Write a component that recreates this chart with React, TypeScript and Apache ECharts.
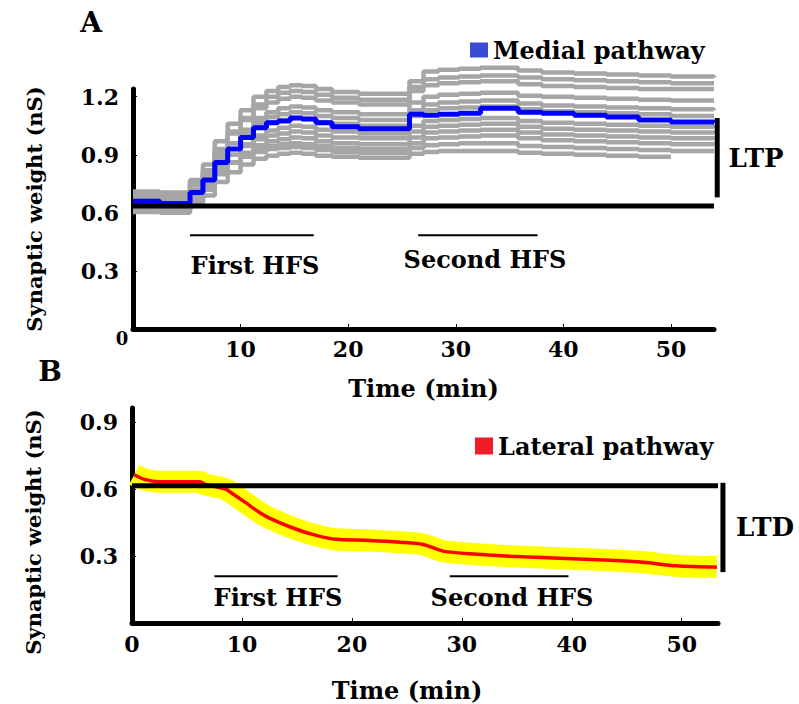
import React, { useEffect, useRef } from 'react';
import * as echarts from 'echarts';

const FONT = 'DejaVu Serif';

// ---------- Panel A : medial pathway (LTP) ----------
const TIME_A = [0, 2.5, 5.3, 6.5, 7.6, 8.8, 10, 11.2, 12.4, 13.5, 14.6, 15.7, 17, 18.5, 21, 25.7, 27, 28.4, 30.3, 32.3, 34, 35.8, 38, 41, 44, 47, 50, 54];
const MEDIAL_MEAN = [0.66, 0.648, 0.705, 0.77, 0.86, 0.93, 0.99, 1.04, 1.065, 1.075, 1.09, 1.085, 1.065, 1.045, 1.035, 1.11, 1.105, 1.11, 1.115, 1.14, 1.14, 1.12, 1.115, 1.105, 1.095, 1.08, 1.07, 1.065];
const TRIAL_1 = [0.7, 0.695, 0.77, 0.85, 0.97, 1.06, 1.13, 1.2, 1.23, 1.25, 1.26, 1.255, 1.24, 1.225, 1.215, 1.28, 1.33, 1.34, 1.345, 1.35, 1.35, 1.335, 1.325, 1.32, 1.315, 1.31, 1.305, 1.3];
const TRIAL_2 = [0.645, 0.64, 0.71, 0.8, 0.92, 1.02, 1.09, 1.16, 1.2, 1.22, 1.23, 1.225, 1.21, 1.195, 1.185, 1.25, 1.29, 1.3, 1.305, 1.31, 1.31, 1.3, 1.29, 1.285, 1.28, 1.275, 1.27, 1.27];
const TRIAL_3 = [0.685, 0.68, 0.745, 0.82, 0.93, 1.01, 1.08, 1.14, 1.17, 1.19, 1.2, 1.195, 1.18, 1.17, 1.16, 1.23, 1.26, 1.27, 1.275, 1.28, 1.28, 1.265, 1.255, 1.25, 1.245, 1.24, 1.24, 1.24];
const TRIAL_4 = [0.625, 0.62, 0.685, 0.76, 0.87, 0.96, 1.03, 1.09, 1.12, 1.14, 1.15, 1.145, 1.13, 1.12, 1.11, 1.17, 1.2, 1.21, 1.215, 1.22, 1.22, 1.205, 1.2, 1.195, 1.19, 1.185, 1.18, 1.18];
const TRIAL_5 = [0.665, 0.66, 0.72, 0.79, 0.89, 0.96, 1.02, 1.07, 1.095, 1.11, 1.12, 1.115, 1.1, 1.09, 1.08, 1.13, 1.16, 1.17, 1.175, 1.18, 1.18, 1.165, 1.155, 1.15, 1.145, 1.14, 1.135, 1.13];
const TRIAL_6 = [0.71, 0.705, 0.76, 0.82, 0.9, 0.96, 1.01, 1.05, 1.07, 1.08, 1.09, 1.085, 1.07, 1.06, 1.05, 1.1, 1.13, 1.14, 1.145, 1.15, 1.15, 1.135, 1.125, 1.12, 1.115, 1.11, 1.1, 1.1];
const TRIAL_7 = [0.635, 0.63, 0.68, 0.745, 0.83, 0.9, 0.955, 1.0, 1.025, 1.04, 1.05, 1.045, 1.03, 1.02, 1.01, 1.05, 1.075, 1.08, 1.085, 1.09, 1.09, 1.075, 1.065, 1.06, 1.055, 1.05, 1.045, 1.04];
const TRIAL_8 = [0.675, 0.67, 0.715, 0.77, 0.84, 0.9, 0.945, 0.98, 1.0, 1.01, 1.02, 1.015, 1.0, 0.99, 0.985, 1.02, 1.045, 1.05, 1.055, 1.06, 1.06, 1.045, 1.035, 1.03, 1.025, 1.02, 1.015, 1.01];
const TRIAL_9 = [0.615, 0.61, 0.66, 0.72, 0.8, 0.86, 0.91, 0.95, 0.97, 0.98, 0.99, 0.985, 0.97, 0.96, 0.955, 0.99, 1.015, 1.02, 1.025, 1.03, 1.03, 1.015, 1.005, 1.0, 0.995, 0.99, 0.985, 0.98];
const TRIAL_10 = [0.655, 0.65, 0.69, 0.74, 0.81, 0.86, 0.9, 0.93, 0.945, 0.955, 0.96, 0.955, 0.945, 0.935, 0.93, 0.96, 0.985, 0.99, 0.995, 1.0, 1.0, 0.985, 0.975, 0.97, 0.965, 0.96, 0.955, 0.95];
const TRIAL_11 = [0.695, 0.69, 0.72, 0.76, 0.82, 0.86, 0.89, 0.915, 0.93, 0.935, 0.94, 0.935, 0.925, 0.915, 0.91, 0.935, 0.95, 0.955, 0.96, 0.96, 0.96, 0.945, 0.94, 0.935, 0.93, 0.925, 0.92, 0.92];
const TRIAL_12 = [0.605, 0.6, 0.64, 0.69, 0.76, 0.81, 0.85, 0.88, 0.895, 0.905, 0.91, 0.905, 0.895, 0.89, 0.885, 0.905, 0.915, 0.92, 0.92, 0.92, 0.92, 0.91, 0.905, 0.9, 0.895, 0.89, null, null];
const TRIALS_A = [TRIAL_1, TRIAL_2, TRIAL_3, TRIAL_4, TRIAL_5, TRIAL_6, TRIAL_7, TRIAL_8, TRIAL_9, TRIAL_10, TRIAL_11, TRIAL_12];

const BASELINE_A = 0.635;
const LTP_RANGE = [0.68, 1.09];
const LTP_X = 54.3;
const HFS_LEVEL_A = 0.485;
const HFS_A = [[5.3, 16.8], [26.5, 37.6]];
const X_TICKS = [10, 20, 30, 40, 50];
const Y_TICKS_A = [0.3, 0.6, 0.9, 1.2];

// ---------- Panel B : lateral pathway (LTD) ----------
const TIME_B = [0.2, 1.2, 2.5, 6.2, 6.6, 8.5, 8.9, 10.3, 11.6, 12.5, 14.4, 16.2, 18.3, 21.6, 24.4, 26.5, 28.3, 31.4, 34.4, 38.9, 43.5, 46.5, 49.5, 53.2];
const LATERAL_MEAN = [0.664, 0.642, 0.633, 0.633, 0.622, 0.6, 0.588, 0.54, 0.495, 0.47, 0.43, 0.4, 0.376, 0.37, 0.362, 0.352, 0.322, 0.308, 0.299, 0.29, 0.281, 0.272, 0.256, 0.25];
const BASELINE_B = 0.615;
const LTD_RANGE = [0.228, 0.628];
const LTD_X = 53.75;
const HFS_LEVEL_B = 0.209;
const HFS_B = [[7.5, 18.7], [28.9, 39.7]];
const X_TICKS_B = [0, 10, 20, 30, 40, 50];
const Y_TICKS_B = [0.3, 0.6, 0.9];

// axis extents
const X_MAX_A = 54;
const Y_MAX_A = 1.24;
const X_MAX_B = 53.3;
const Y_MAX_B = 0.963;

const boldText = (size: number) => ({ fontFamily: FONT, fontWeight: 'bold' as const, fontSize: size, color: '#000' });

function plainLine(data: any[], xi: number, width: number) {
  return {
    type: 'line', xAxisIndex: xi, yAxisIndex: xi, data, symbol: 'none', showSymbol: false,
    lineStyle: { color: '#000', width, cap: 'butt' }, itemStyle: { color: '#000' },
    silent: true, clip: false, z: 5,
  };
}

function axisX(gi: number, max: number, ticks: number[], nameGap: number, namePad: number[]) {
  return {
    gridIndex: gi, type: 'value', min: 0, max,
    axisLine: { show: true, onZero: false, lineStyle: { color: '#000', width: 5 } },
    axisTick: { show: true, inside: true, length: 5, customValues: X_TICKS, lineStyle: { color: '#000', width: 1 } },
    axisLabel: { customValues: ticks, margin: gi === 0 ? 9 : 10, ...boldText(22) },
    splitLine: { show: false },
    name: 'Time (min)', nameLocation: 'middle', nameGap,
    nameTextStyle: { ...boldText(24), padding: namePad },
  };
}

function axisY(gi: number, max: number, ticks: number[], namePad: number[]) {
  return {
    gridIndex: gi, type: 'value', min: 0, max,
    axisLine: { show: true, onZero: false, lineStyle: { color: '#000', width: 5 } },
    axisTick: { show: true, inside: true, length: 4, customValues: ticks, lineStyle: { color: '#000', width: 1 } },
    axisLabel: { customValues: ticks, margin: 14, formatter: (v: number) => v.toFixed(1), ...boldText(22) },
    splitLine: { show: false },
    name: 'Synaptic weight (nS)', nameLocation: 'middle', nameRotate: 90, nameGap: 88,
    nameTextStyle: { ...boldText(21), padding: namePad },
  };
}

// hidden axes on a wider grid with the same scale, for the LTP / LTD bars beyond the axis end
function hiddenAxis(gi: number, max: number) {
  return { gridIndex: gi, type: 'value', min: 0, max, show: false };
}

function gText(text: string, x: number, y: number, size: number) {
  return {
    type: 'text', x, y, silent: true,
    style: { text, fontFamily: FONT, fontWeight: 'bold', fontSize: size, fill: '#000', align: 'center', verticalAlign: 'middle' },
  };
}

export default function App() {
  const ref = useRef<HTMLDivElement>(null);
  useEffect(() => {
    const chart = echarts.init(ref.current!, null, { renderer: 'svg' });

    const GRID_A = { left: 133, top: 89, width: 581, height: 240 };
    const GRID_B = { left: 132, top: 408, width: 586, height: 215 };
    const WIDE = 620;
    const wideMaxA = (X_MAX_A * WIDE) / GRID_A.width;
    const wideMaxB = (X_MAX_B * WIDE) / GRID_B.width;

    const series: any[] = [];
    TRIALS_A.forEach((vals, i) => {
      series.push({
        type: 'line', name: `Trial ${i + 1}`, xAxisIndex: 0, yAxisIndex: 0, step: 'end',
        data: TIME_A.map((t, j) => [t, vals[j]]), symbol: 'none', showSymbol: false,
        lineStyle: { color: '#a6a6a6', width: 4.5 }, itemStyle: { color: '#a6a6a6' },
        clip: false, silent: true, z: 2,
      });
    });
    series.push({
      type: 'line', name: 'Medial pathway', xAxisIndex: 0, yAxisIndex: 0, step: 'end',
      data: TIME_A.map((t, j) => [t, MEDIAL_MEAN[j]]), symbol: 'none', showSymbol: false,
      lineStyle: { color: '#0000ff', width: 5 }, itemStyle: { color: '#0000ff' }, clip: false, z: 3,
    });
    series.push(plainLine([[0, BASELINE_A], [X_MAX_A, BASELINE_A]], 0, 5));
    series.push(plainLine([[LTP_X, LTP_RANGE[0]], [LTP_X, LTP_RANGE[1]]], 2, 5));
    HFS_A.forEach((r) => series.push(plainLine([[r[0], HFS_LEVEL_A], [r[1], HFS_LEVEL_A]], 0, 2)));

    // Panel B: spread drawn as a wide yellow band behind the mean
    series.push({
      type: 'line', name: 'Lateral spread', xAxisIndex: 1, yAxisIndex: 1, smooth: 0.3,
      data: TIME_B.map((t, j) => [t, LATERAL_MEAN[j]]), symbol: 'none', showSymbol: false,
      lineStyle: { color: '#ffff00', width: 22, cap: 'butt', join: 'round' }, itemStyle: { color: '#ffff00' },
      silent: true, z: 2,
    });
    series.push({
      type: 'line', name: 'Lateral pathway', xAxisIndex: 1, yAxisIndex: 1, smooth: 0.3,
      data: TIME_B.map((t, j) => [t, LATERAL_MEAN[j]]), symbol: 'none', showSymbol: false,
      lineStyle: { color: '#ff0000', width: 3.5 }, itemStyle: { color: '#ff0000' }, z: 3,
    });
    series.push(plainLine([[0, BASELINE_B], [X_MAX_B, BASELINE_B]], 1, 5));
    series.push(plainLine([[LTD_X, LTD_RANGE[0]], [LTD_X, LTD_RANGE[1]]], 3, 5));
    HFS_B.forEach((r) => series.push(plainLine([[r[0], HFS_LEVEL_B], [r[1], HFS_LEVEL_B]], 1, 2)));

    const legendCommon = {
      icon: 'rect', itemWidth: 18, itemHeight: 15, selectedMode: false, padding: 0,
      textStyle: boldText(24),
    };

    chart.setOption({
      animation: false,
      backgroundColor: '#fff',
      grid: [
        GRID_A,
        GRID_B,
        { ...GRID_A, width: WIDE },
        { ...GRID_B, width: WIDE },
      ],
      xAxis: [
        axisX(0, X_MAX_A, X_TICKS, 47, [0, 0, 0, 0]),
        axisX(1, X_MAX_B, X_TICKS_B, 55, [0, 36, 0, 0]),
        hiddenAxis(2, wideMaxA),
        hiddenAxis(3, wideMaxB),
      ],
      yAxis: [
        axisY(0, Y_MAX_A, Y_TICKS_A, [0, 0, 0, 0]),
        axisY(1, Y_MAX_B, Y_TICKS_B, [0, 33, 0, 0]),
        hiddenAxis(2, Y_MAX_A),
        hiddenAxis(3, Y_MAX_B),
      ],
      legend: [
        { ...legendCommon, left: 470, top: 38, data: [{ name: 'Medial pathway', itemStyle: { color: '#3b4bd2' } }] },
        { ...legendCommon, itemHeight: 17, left: 475, top: 434, data: [{ name: 'Lateral pathway', itemStyle: { color: '#ee1c24' } }] },
      ],
      graphic: [
        gText('A', 91, 22, 28),
        gText('B', 50, 371, 28),
        gText('0', 122, 338, 18),
        gText('First HFS', 255, 265, 24),
        gText('Second HFS', 485, 259, 24),
        gText('First HFS', 278, 597, 24),
        gText('Second HFS', 512, 597, 24),
        gText('LTP', 756, 158, 26),
        gText('LTD', 765, 527, 26),
      ],
      series,
    });
    return () => chart.dispose();
  }, []);
  return <div ref={ref} style={{ position: 'fixed', left: 0, top: 0, width: 799, height: 704, background: '#fff' }} />;
}
